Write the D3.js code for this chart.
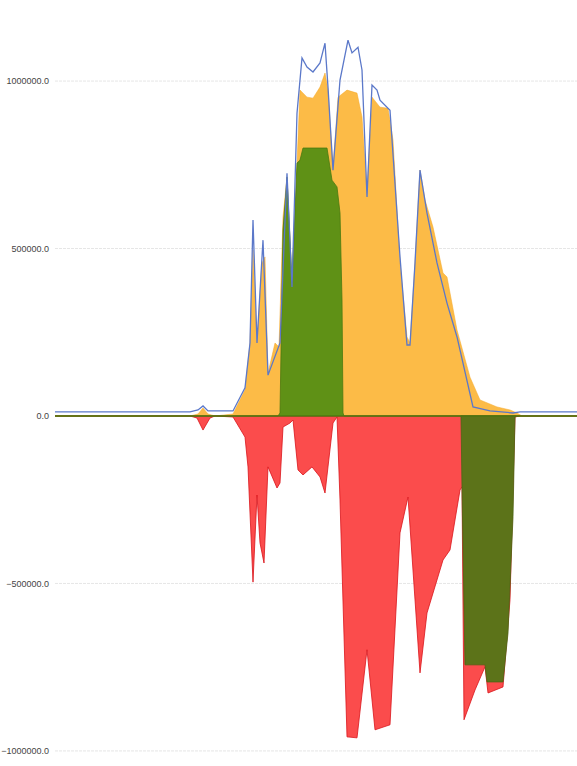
<!DOCTYPE html>
<html><head><meta charset="utf-8">
<script src="https://cdn.jsdelivr.net/npm/d3@7/dist/d3.min.js"></script>
<style>body{margin:0;background:#fff}</style></head>
<body><svg id="c" width="577" height="766"></svg>
<script>
const yTicks = [-1000000, -500000, 0, 500000, 1000000];
const tOrange = [0,135,143,148,153,160,178,190,195,198,202,207,210,213,220,224,228,232,237,242,245,252,258,265,270,273,278,283,292,302,307,312,317,325,333,338,345,352,355,360,365,370,378,388,392,402,415,425,442,455,462,467,522];
const vOrange = [0,0,6000,24000,6000,0,6000,78000,218000,496000,218000,457000,475000,128000,218000,206000,594000,713000,397000,755000,973000,952000,949000,982000,1024000,973000,734000,952000,973000,964000,893000,666000,952000,922000,919000,824000,457000,236000,218000,457000,734000,645000,564000,427000,415000,257000,116000,48000,27000,18000,9000,0,0];
const tBlue = [0,135,143,148,153,178,190,195,198,202,208,213,225,232,237,242,247,252,258,265,270,273,278,285,293,297,303,307,312,317,322,325,335,345,352,355,360,365,372,382,392,402,418,435,458,465,522];
const vBlue = [12000,12000,18000,30000,15000,15000,84000,218000,585000,218000,525000,122000,218000,725000,385000,904000,1069000,1042000,1027000,1054000,1113000,982000,734000,1003000,1122000,1084000,1101000,1033000,654000,988000,973000,943000,913000,475000,212000,212000,457000,734000,606000,457000,337000,236000,27000,15000,9000,12000,12000];
const tGreen = [0,223,225,228,232,237,242,245,248,272,277,282,285,287,288,289,522];
const vGreen = [0,0,9000,555000,713000,397000,755000,764000,800000,800000,704000,684000,606000,346000,9000,0,0];
const tRed = [0,135,142,148,155,160,178,190,193,198,202,205,209,213,222,225,228,235,238,243,248,257,265,270,278,282,285,292,302,312,320,335,345,353,365,372,388,395,405,407,409,420,430,433,448,455,460,465,522];
const vRed = [0,0,-6000,-42000,-6000,0,-3000,-63000,-152000,-496000,-236000,-379000,-439000,-152000,-215000,-200000,-33000,-21000,-12000,-161000,-176000,-152000,-182000,-230000,-21000,-3000,-251000,-958000,-961000,-698000,-937000,-922000,-349000,-242000,-767000,-588000,-430000,-400000,-221000,-212000,-907000,-818000,-749000,-827000,-809000,-549000,-3000,0,0];
const tOlive = [406,407,410,430,432,448,453,458,460,461];
const vOlive = [0,-212000,-743000,-743000,-794000,-794000,-648000,-301000,-3000,0];

const svg = d3.select('#c');
const x = d3.scaleLinear().domain([0,522]).range([55,577]);
const y = d3.scaleLinear().domain([-1045000,1242000]).range([766,0]);

const g = svg.append('g');
yTicks.forEach(v=>{
  g.append('line').attr('x1',55).attr('x2',577).attr('y1',y(v)).attr('y2',y(v))
   .attr('stroke','#e6e6e6').attr('stroke-width',1).attr('stroke-dasharray', v===0?null:'3,1');
});
const axis = d3.axisLeft(y).tickValues(yTicks).tickSize(0).tickPadding(6).tickFormat(d=>d3.format('.1f')(d));
const ag = svg.append('g').attr('transform','translate(55,0)').call(axis);
ag.select('.domain').remove();
ag.selectAll('text').attr('font-family','Liberation Sans, Arial').attr('font-size',9).attr('fill','#444');

const zip=(t,v)=>t.map((d,i)=>[d,v[i]]);
const area=d3.area().x(d=>x(d[0])).y0(y(0)).y1(d=>y(d[1]));
const line=d3.line().x(d=>x(d[0])).y(d=>y(d[1]));

svg.append('path').datum(zip(tOrange,vOrange)).attr('d',area).attr('fill','#fcbb47').attr('stroke','#f5a623').attr('stroke-width',0.5);
svg.append('path').datum(zip(tRed,vRed)).attr('d',area).attr('fill','#fb4c4c').attr('stroke','#d9141a').attr('stroke-width',0.8);
svg.append('path').datum(zip(tGreen,vGreen)).attr('d',area).attr('fill','#5f9116').attr('stroke','#4a7a10').attr('stroke-width',0.8);
svg.append('path').datum(zip(tOlive,vOlive)).attr('d',area).attr('fill','#5c7319').attr('stroke','#4d6514').attr('stroke-width',0.8);
svg.append('path').datum(zip(tBlue,vBlue)).attr('d',line).attr('fill','none').attr('stroke','#5b78c9').attr('stroke-width',1.3);
svg.append('line').attr('x1',55).attr('x2',577).attr('y1',y(0)).attr('y2',y(0)).attr('stroke','#4a7a10').attr('stroke-width',1);
</script></body></html>
